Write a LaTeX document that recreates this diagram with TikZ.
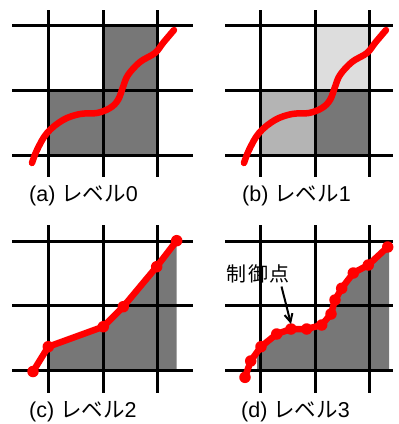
\documentclass[tikz,border=0pt]{standalone}
\usepackage{fontspec}
\setmainfont{Liberation Sans}
\newfontfamily\cjk{Noto Sans CJK JP}
\usetikzlibrary{arrows.meta}
\definecolor{gdark}{HTML}{777777}
\definecolor{gmid}{HTML}{B4B4B4}
\definecolor{glight}{HTML}{DDDDDD}
\definecolor{cred}{HTML}{FF0000}
\tikzset{
  gridline/.style={line width=3pt, black},
  curve/.style={line width=6.5pt, cred, line cap=round, line join=round},
  cpt/.style={circle, fill=cred, inner sep=0pt, minimum size=11.5pt},
  caption/.style={anchor=west, inner sep=0pt, font=\fontsize{21.5}{21.5}\selectfont},
}
\begin{document}
\begin{tikzpicture}[x=1pt,y=-1pt]
\useasboundingbox (0,0) rectangle (399,424);
% ---------- (a) ----------
\fill[gdark] (48.5,90) rectangle (157.5,155);
\fill[gdark] (103.5,25) rectangle (157.5,90);
\foreach \y in {25,90,155} \draw[gridline] (12,\y) -- (193,\y);
\foreach \x in {48.5,103.5,157.5} \draw[gridline] (\x,10) -- (\x,177);
\draw[curve] plot[smooth, tension=0.6] coordinates {(32,163) (37,150) (47,133) (63,120) (80,114) (97,113) (110,108) (118,100) (123,87) (128,75) (140,62) (155,53) (163,43) (174,30)};
\node[caption] (capa) at (29,196) {(a) {\cjk レベル}0};
% ---------- (b) ----------
\fill[gmid] (260.5,90) rectangle (315.5,155);
\fill[gdark] (315.5,90) rectangle (369.5,155);
\fill[glight] (315.5,25) rectangle (369.5,90);
\foreach \y in {25,90,155} \draw[gridline] (225,\y) -- (393,\y);
\foreach \x in {260.5,315.5,369.5} \draw[gridline] (\x,10) -- (\x,177);
\draw[curve] plot[smooth, tension=0.6] coordinates {(244,163) (249,150) (259,133) (275,120) (292,114) (309,113) (322,108) (330,100) (335,87) (340,75) (352,62) (367,53) (375,43) (386,30)};
\node[caption] (capb) at (242,196) {(b) {\cjk レベル}1};
% ---------- (c) ----------
\fill[gdark] (48.3,346.7) -- (103.3,326.7) -- (123.3,306.7) -- (156.7,266.7) -- (176.7,240.7) -- (176.7,370.5) -- (48.3,370.5) -- cycle;
\foreach \y in {241,305.5,370.5} \draw[gridline] (12,\y) -- (193,\y);
\foreach \x in {48.5,103.5,157.5} \draw[gridline] (\x,225) -- (\x,393);
\draw[curve] (33,371.5) -- (48.3,346.7) -- (103.3,326.7) -- (123.3,306.7) -- (156.7,266.7) -- (176.7,240.7);
\foreach \p [count=\i] in {(33,371.5),(48.3,346.7),(103.3,326.7),(123.3,306.7),(156.7,266.7),(176.7,240.7)}
  \node[cpt] (c\i) at \p {};
\node[caption] (capc) at (29,412) {(c) {\cjk レベル}2};
% ---------- (d) ----------
\fill[gdark] (257,352.2) -- (261,346.7) -- (276.7,334) -- (291,329) -- (306.7,329) -- (321.7,325) -- (331,314) -- (335,300) -- (341.7,288.3) -- (353.3,273) -- (368.3,265) -- (389,247) -- (389,370.5) -- (257,370.5) -- cycle;
\foreach \y in {241,305.5,370.5} \draw[gridline] (225,\y) -- (393,\y);
\foreach \x in {260.5,315.5,369.5} \draw[gridline] (\x,225) -- (\x,393);
\draw[curve] (245,377.3) -- (250.7,361) -- (261,346.7) -- (276.7,334) -- (291,329) -- (306.7,329) -- (321.7,325) -- (331,314) -- (335,300) -- (341.7,288.3) -- (353.3,273) -- (368.3,265) -- (387.7,247);
\foreach \p [count=\i] in {(245,377.3),(250.7,361),(261,346.7),(276.7,334),(291,329),(306.7,329),(321.7,325),(331,314),(335,300),(341.7,288.3),(353.3,273),(368.3,265),(387.7,247)}
  \node[cpt] (d\i) at \p {};
\node[caption] (capd) at (241,412) {(d) {\cjk レベル}3};
\node[inner sep=0pt, font=\cjk\fontsize{20}{20}\selectfont] (lbl) at (258,274) {制\hspace{1.5pt}御\hspace{1.5pt}点};
\coordinate (arrS) at (281.5,286.5);
\draw[line width=2pt, -{Straight Barb[length=8pt, width=8pt]}] (arrS) -- ([yshift=-1pt]d5.north);
\end{tikzpicture}
\end{document}
